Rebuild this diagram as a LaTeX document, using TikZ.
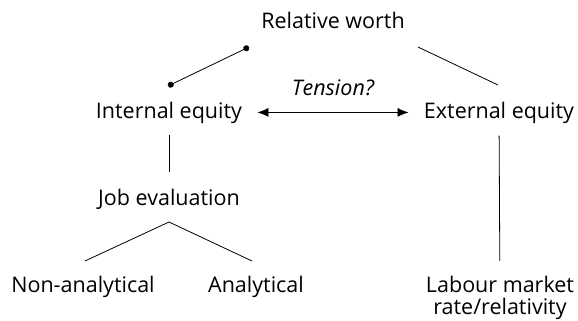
\documentclass[tikz,border=0pt]{standalone}
\usepackage{fontspec}
\setmainfont{Open Sans}
\usetikzlibrary{arrows.meta}

\begin{document}
\begin{tikzpicture}[%
    x=1pt,
    y=-1pt,
    line width=0.8pt,
    >={Latex[length=11pt,width=9pt]},
    term/.style={%
      font=\fontsize{21.5}{21.5}\selectfont,
      inner sep=2pt,
      anchor=base
    },
    tlabel/.style={%
      font=\fontsize{21.5}{21.5}\selectfont\itshape,
      inner sep=2pt
    },
    dotline/.style={%
      {Circle[length=6pt]}-{Circle[length=6pt]}
    }
  ]
    \useasboundingbox (0,0) rectangle (578,321);

    \node[term] (rw) at (333,29)  {Relative worth};
    \node[term] (ie) at (169,118) {Internal equity};
    \node[term] (ee) at (499,118) {External equity};
    \node[term] (je) at (169,205) {Job evaluation};
    \node[term] (na) at (83,292)  {Non-analytical};
    \node[term] (an) at (256,292) {Analytical};
    \node[term, align=center] (lm) at (500,314) {Labour market\\rate/relativity};

    % ends of the free lines
    \coordinate (rw-l) at (249,47);
    \coordinate (rw-r) at (418,47);
    \coordinate (ie-t) at (168,86);
    \coordinate (ee-t) at (498,85);
    \coordinate (je-b) at (169,222);
    \coordinate (na-t) at (85,261);
    \coordinate (an-t) at (252,261);

    \path (ie) edge [<->, shorten <=13pt, shorten >=13pt]
                    node [tlabel, above=14pt] {Tension?}   (ee)
          (ie) edge [shorten <=9pt, shorten >=14pt]        (je)
          (ee) edge [shorten <=10pt, shorten >=13pt]       (lm)
          ;
    \draw[dotline] (ie-t) -- (rw-l);
    \draw (rw-r) -- (ee-t);
    \draw (na-t) -- (je-b) -- (an-t);
  \end{tikzpicture}
\end{document}
